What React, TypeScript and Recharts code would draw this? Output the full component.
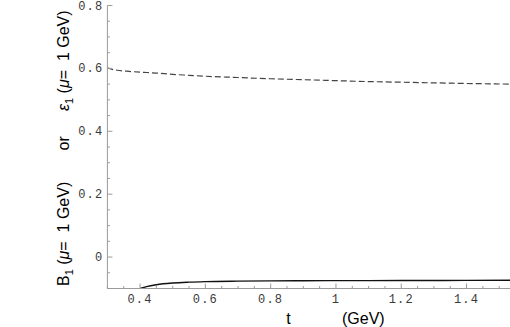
import React from 'react';
import { LineChart, Line, XAxis, YAxis } from 'recharts';

const tValues = [0.3, 0.31, 0.33, 0.36, 0.4, 0.42, 0.45, 0.5, 0.55, 0.6, 0.7, 0.8, 0.9, 1.0, 1.1, 1.2, 1.3, 1.4, 1.533];
const epsilon1 = [0.602, 0.598, 0.594, 0.591, 0.588, 0.587, 0.585, 0.581, 0.578, 0.575, 0.571, 0.567, 0.564, 0.561, 0.558, 0.556, 0.554, 0.552, 0.55];
const b1 = [null, null, null, null, -0.1, -0.094, -0.088, -0.0825, -0.0797, -0.078, -0.0765, -0.0757, -0.0753, -0.075, -0.0748, -0.0746, -0.0744, -0.0742, -0.074];

const xMinorTicks = [0.3, 0.35, 0.4, 0.45, 0.5, 0.55, 0.6, 0.65, 0.7, 0.75, 0.8, 0.85, 0.9, 0.95, 1.0, 1.05, 1.1, 1.15, 1.2, 1.25, 1.3, 1.35, 1.4, 1.45, 1.5];
const xMajorLabels: Record<string, string> = { '0.4': '0.4', '0.6': '0.6', '0.8': '0.8', '1': '1', '1.2': '1.2', '1.4': '1.4' };
const yMinorTicks = [-0.1, -0.05, 0, 0.05, 0.1, 0.15, 0.2, 0.25, 0.3, 0.35, 0.4, 0.45, 0.5, 0.55, 0.6, 0.65, 0.7, 0.75, 0.8];
const yMajorLabels: Record<string, string> = { '0': '0', '0.2': '0.2', '0.4': '0.4', '0.6': '0.6', '0.8': '0.8' };

const data = tValues.map((t, i) => ({ t, eps: epsilon1[i], b: b1[i] }));

const AXIS = '#9a9a9a';
const TXT = '#3a3a3a';
const MONO = '"Liberation Mono", "DejaVu Sans Mono", monospace';
const SANS = '"Liberation Sans", Arial, sans-serif';

const keyOf = (v: number) => String(Math.round(v * 1000) / 1000);

const BottomTick = (props: any) => {
  const { x, y, payload } = props;
  const k = keyOf(payload.value);
  const major = k in xMajorLabels;
  return (
    <g>
      <line x1={x} x2={x} y1={y} y2={y - (major ? 5 : 2.5)} stroke={AXIS} strokeWidth={1} />
      {major && (
        <text x={x} y={y + 14.5} textAnchor="middle" fontFamily={MONO} fontSize={12} letterSpacing={1.2} fill={TXT}>
          {xMajorLabels[k]}
        </text>
      )}
    </g>
  );
};

const TopTick = (props: any) => {
  const { x, y, payload } = props;
  const major = keyOf(payload.value) in xMajorLabels;
  return <line x1={x} x2={x} y1={y} y2={y + (major ? 5 : 2.5)} stroke={AXIS} strokeWidth={1} />;
};

const LeftTick = (props: any) => {
  const { x, y, payload } = props;
  const k = keyOf(payload.value);
  const major = k in yMajorLabels;
  return (
    <g>
      <line x1={x} x2={x + (major ? 5 : 2.5)} y1={y} y2={y} stroke={AXIS} strokeWidth={1} />
      {major && (
        <text x={x - 4} y={y + 4} textAnchor="end" fontFamily={MONO} fontSize={12} letterSpacing={1.2} fill={TXT}>
          {yMajorLabels[k]}
        </text>
      )}
    </g>
  );
};

const YTitle = () => (
  <g fill="#000" fontFamily={SANS} fontSize={16}>
    <text transform="translate(68.5, 286) rotate(-90)">
      B<tspan fontSize={11} dy={4}>1</tspan>
      <tspan dy={-4}>{' ('}</tspan>
      <tspan fontStyle="italic">μ</tspan>
      {'=\u00A0 1 GeV)'}
    </text>
    <text transform="translate(68.5, 150.5) rotate(-90)">or</text>
    <text transform="translate(68.5, 111) rotate(-90)">
      <tspan fontStyle="italic">ε</tspan>
      <tspan fontSize={11} dy={4}>1</tspan>
      <tspan dy={-4}>{' ('}</tspan>
      <tspan fontStyle="italic">μ</tspan>
      {'=\u00A0 1 GeV)'}
    </text>
  </g>
);

const XTitle = () => (
  <g fill="#000" fontFamily={SANS} fontSize={16}>
    <text x={288.5} y={324} textAnchor="middle">t</text>
    <text x={342} y={324}>(GeV)</text>
  </g>
);

export default function App() {
  return (
    <div style={{ position: 'absolute', left: 0, top: 0, background: '#fff' }}>
      <LineChart width={510} height={327} data={data} margin={{ top: 5.5, right: 0, left: 0, bottom: 0 }}>
        <XAxis
          dataKey="t"
          type="number"
          domain={[0.3, 1.533]}
          allowDataOverflow
          ticks={xMinorTicks}
          interval={0}
          height={38.5}
          tickSize={0}
          tickMargin={0}
          tickLine={false}
          axisLine={{ stroke: AXIS }}
          tick={<BottomTick />}
          label={{ content: () => <XTitle /> }}
        />
        <XAxis
          xAxisId="top"
          orientation="top"
          dataKey="t"
          type="number"
          domain={[0.3, 1.533]}
          allowDataOverflow
          ticks={xMinorTicks}
          interval={0}
          height={0}
          tickSize={0}
          tickMargin={0}
          tickLine={false}
          axisLine={{ stroke: AXIS }}
          tick={<TopTick />}
        />
        <YAxis
          type="number"
          domain={[-0.1, 0.8]}
          allowDataOverflow
          ticks={yMinorTicks}
          interval={0}
          width={107.4}
          tickSize={0}
          tickMargin={0}
          tickLine={false}
          axisLine={{ stroke: AXIS }}
          tick={<LeftTick />}
          label={{ content: () => <YTitle /> }}
        />
        <Line
          dataKey="eps"
          type="monotone"
          stroke="#444"
          strokeWidth={1.2}
          strokeDasharray="6 3"
          dot={false}
          isAnimationActive={false}
        />
        <Line
          dataKey="b"
          type="monotone"
          stroke="#111"
          strokeWidth={1.4}
          dot={false}
          isAnimationActive={false}
        />
      </LineChart>
    </div>
  );
}
